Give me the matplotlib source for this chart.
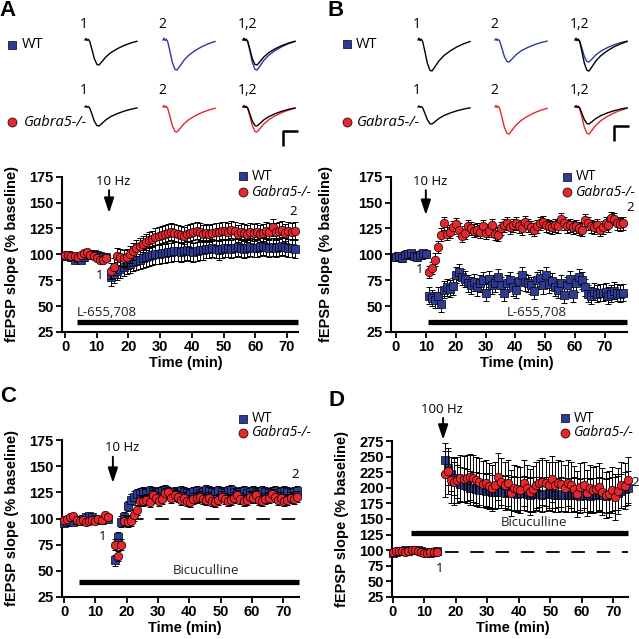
import numpy as np
import matplotlib.pyplot as plt

W = H = 639
plt.rcParams['font.family'] = ['Liberation Sans', 'DejaVu Sans']
ANNO = ['Open Sans', 'DejaVu Sans']

BLUE = '#2d3b96'
RED = '#e8262c'

# ---------------- data ----------------
# example fEPSP waveform (normalised time, normalised depth)
TRACE_X = [0.00, 0.02, 0.04, 0.06, 0.09, 0.13, 0.18, 0.23, 0.27, 0.32, 0.40, 0.50, 0.62, 0.75, 0.88, 1.00]
TRACE_Y = [0.00, 0.06, -0.02, 0.03, -0.05, -0.35, -0.75, -0.98, -1.00, -0.88, -0.68, -0.50, -0.35, -0.22, -0.12, -0.05]
# trace depths (px) : [before, after]
A_WT_DEPTH = [25, 30]
A_KO_DEPTH = [19, 25]
B_WT_DEPTH = [31, 22]
B_KO_DEPTH = [17, 27]

# panel A  (L-655,708, 10 Hz)
A_BASE_T0, A_POST_T0 = 0.0, 14.5
A_WT_BASE = [98, 99, 97, 95, 96, 95, 97, 99, 100, 100, 99, 98, 97, 97]
A_KO_BASE = [99, 99, 98, 98, 97, 99, 101, 102, 99, 98, 96, 95, 95, 96]
A_WT_POST = [78, 81, 84, 86, 88, 90, 91, 93, 94, 95,
             96, 97, 98, 99, 100, 100, 101, 101, 102, 102,
             103, 103, 102, 103, 104, 103, 102, 103, 104, 104,
             105, 105, 106, 105, 104, 105, 106, 106, 105, 106,
             107, 106, 105, 106, 107, 106, 106, 107, 108, 107,
             106, 107, 106, 107, 108, 107, 106, 106, 105]
A_KO_POST = [84, 88, 98, 97, 96, 97, 100, 103, 106, 108,
             110, 112, 114, 115, 117, 118, 119, 120, 121, 122,
             121, 120, 119, 118, 120, 121, 122, 123, 122, 120,
             121, 120, 121, 122, 122, 123, 123, 122, 124, 123,
             120, 122, 121, 120, 122, 121, 122, 120, 121, 123,
             122, 126, 122, 123, 124, 121, 123, 122, 123]
A_ERR = {'wt': (3, 9), 'ko': (2, 8)}

# panel B  (L-655,708 during 10 Hz)
B_BASE_T0, B_POST_T0 = 0.0, 11.2
B_WT_BASE = [97, 98, 96, 99, 100, 101, 98, 97, 99, 101, 100]
B_KO_BASE = [98, 97, 98, 100, 99, 100, 99, 98, 100, 99, 100]
B_WT_POST = [60, 58, 56, 60, 52, 66, 68, 67, 69, 80,
             83, 78, 76, 72, 70, 73, 68, 72, 75, 63,
             76, 70, 72, 78, 70, 63, 72, 75, 68, 66,
             74, 80, 73, 72, 70, 65, 75, 77, 70, 80,
             71, 74, 68, 66, 72, 61, 70, 76, 62, 72,
             78, 75, 68, 62, 60, 64, 62, 63, 63, 64,
             60, 62, 65, 63, 62, 63]
B_KO_POST = [83, 87, 95, 107, 119, 130, 120, 122, 126, 129,
             124, 118, 121, 127, 125, 123, 124, 122, 127, 121,
             123, 128, 120, 119, 125, 128, 130, 126, 128, 130,
             127, 125, 131, 128, 126, 124, 127, 130, 131, 128,
             127, 126, 128, 127, 134, 130, 127, 128, 126, 127,
             125, 124, 133, 130, 127, 126, 128, 124, 126, 130,
             128, 135, 134, 130, 129, 130]
B_ERR = {'wt': (3, 8), 'ko': (3, 6)}

# panel C  (bicuculline, 10 Hz)
C_BASE_T0, C_POST_T0 = 0.0, 16.3
C_WT_BASE = [96, 97, 98, 97, 99, 98, 100, 101, 102, 101, 100, 99, 99, 100, 100]
C_KO_BASE = [99, 100, 101, 102, 99, 98, 99, 97, 98, 99, 98, 100, 99, 103, 101]
C_WT_POST = [60, 82, 97, 101, 112, 118, 121, 123, 124, 125,
             124, 126, 125, 124, 125, 126, 127, 125, 124, 125,
             124, 126, 125, 124, 123, 125, 126, 124, 125, 127,
             126, 125, 124, 126, 125, 124, 126, 127, 125, 124,
             125, 126, 124, 125, 126, 125, 124, 126, 125, 124,
             125, 126, 124, 125, 126, 125, 124, 125, 126]
C_KO_POST = [75, 64, 75, 98, 97, 98, 103, 108, 117, 117,
             118, 116, 122, 120, 117, 119, 124, 125, 120, 122,
             121, 118, 120, 117, 116, 119, 120, 121, 119, 118,
             120, 117, 116, 118, 121, 119, 117, 118, 120, 122,
             119, 117, 118, 121, 120, 122, 118, 117, 119, 120,
             123, 121, 118, 120, 117, 118, 120, 119, 121]
C_ERR = {'wt': (3, 5), 'ko': (2, 5)}

# panel D  (bicuculline, 100 Hz)
D_BASE_T0, D_POST_T0 = 0.0, 16.5
D_WT_BASE = [96, 97, 98, 99, 100, 99, 100, 101, 100, 98, 97, 97, 96, 97, 98]
D_KO_BASE = [97, 98, 99, 98, 97, 98, 100, 101, 99, 97, 96, 96, 97, 97, 97]
D_WT_POST = [245, 232, 222, 215, 210, 206, 205, 203, 200, 199,
             198, 197, 196, 195, 196, 194, 193, 195, 194, 192,
             193, 191, 192, 190, 191, 192, 190, 189, 190, 191,
             190, 189, 190, 191, 190, 189, 188, 190, 189, 188,
             189, 190, 188, 187, 189, 188, 187, 188, 189, 190,
             188, 187, 189, 190, 191, 192, 195, 198, 200]
D_KO_POST = [222, 227, 212, 210, 213, 215, 214, 216, 217, 215,
             212, 210, 206, 208, 203, 200, 205, 218, 210, 204,
             208, 192, 200, 198, 196, 208, 200, 193, 198, 205,
             207, 210, 208, 204, 214, 205, 207, 206, 200, 208,
             205, 198, 190, 202, 204, 192, 200, 197, 198, 202,
             194, 188, 190, 197, 185, 195, 204, 203, 212]
D_ERR = {'wt': (3, 27), 'ko': (3, 37)}

X_TICKS = [0, 10, 20, 30, 40, 50, 60, 70]


fig = plt.figure(figsize=(W / 100, H / 100), dpi=100)

# overlay in pixel coordinates for traces, letters, legends
ov = fig.add_axes([0, 0, 1, 1])
ov.set_xlim(0, W)
ov.set_ylim(H, 0)
ov.axis('off')


def px_axes(left, top, right, bottom):
    return fig.add_axes([left / W, 1 - bottom / H, (right - left) / W, (bottom - top) / H])


def style(ax, xlim, ylim, yticks):
    ax.set_xlim(*xlim)
    ax.set_ylim(*ylim)
    ax.set_xticks(X_TICKS)
    ax.set_yticks(yticks)
    for s in ['top', 'right']:
        ax.spines[s].set_visible(False)
    for s in ['left', 'bottom']:
        ax.spines[s].set_linewidth(1.5)
    ax.tick_params(direction='out', length=4, width=1.3, pad=2, labelsize=10.5)
    for lab in ax.get_xticklabels() + ax.get_yticklabels():
        lab.set_fontweight('bold')
    ax.patch.set_alpha(0)


def series(ax, t0, vals, err, marker, color, ms, z):
    t = t0 + np.arange(len(vals))
    ax.errorbar(t, vals, yerr=err, fmt='none', ecolor='k', elinewidth=0.7,
                capsize=2.3, capthick=0.7, zorder=z, clip_on=False)
    ax.plot(t, vals, ls='none', marker=marker, ms=ms, mfc=color, mec='k',
            mew=0.5, zorder=z + 0.5, clip_on=False)


def group(ax, base_t0, post_t0, base, post, errs, kind, z):
    if kind == 'wt':
        m, c, ms = 's', BLUE, 5.6
    else:
        m, c, ms = 'o', RED, 6.1
    series(ax, base_t0, base, errs[kind][0], m, c, ms, z)
    series(ax, post_t0, post, errs[kind][1], m, c, ms, z)


def arrow(ax, x, y_from, y_to, label, tx, ty):
    ax.annotate('', xy=(x, y_to), xytext=(x, y_from), annotation_clip=False,
                arrowprops=dict(arrowstyle='-|>,head_length=0.6,head_width=0.2',
                                color='k', lw=1.4, mutation_scale=15, shrinkA=0, shrinkB=0))
    ax.text(tx, ty, label, ha='center', va='center', fontsize=9.5, family=ANNO, clip_on=False)


def drug_bar(ax, x0, x1, y, label, lx, ly, ha):
    ax.plot([x0, x1], [y, y], color='k', lw=3.8, solid_capstyle='butt', clip_on=False)
    ax.text(lx, ly, label, ha=ha, va='center', fontsize=9.5, family=ANNO, color='#222222', clip_on=False)


def note(ax, x, y, s):
    ax.text(x, y, s, ha='center', va='center', fontsize=9.5, family=ANNO, clip_on=False)


def legend(x, y1, y2):
    ov.plot(x, y1, 's', ms=6, mfc=BLUE, mec='k', mew=0.5)
    ov.plot(x, y2, 'o', ms=6.5, mfc=RED, mec='k', mew=0.5)
    ov.text(x + 9, y1, 'WT', va='center', fontsize=10, family=ANNO)
    ov.text(x + 9, y2, 'Gabra5-/-', va='center', fontsize=10, family=ANNO, style='italic')


def trace(x0, base, depth, color, width=52):
    xs = x0 + np.array(TRACE_X) * width
    ys = base - np.array(TRACE_Y) * depth
    ov.plot(xs, ys, color=color, lw=1.0)


def trace_block(cols, rows, wt_depth, ko_depth):
    nums = ['1', '2', '1,2']
    for base in rows:
        for c, x0 in enumerate(cols):
            ov.text(x0 - 5, base - 16, nums[c], fontsize=10, family=ANNO, va='center')
    # WT row
    trace(cols[0], rows[0], wt_depth[0], 'k')
    trace(cols[1], rows[0], wt_depth[1], BLUE)
    trace(cols[2], rows[0], wt_depth[1], BLUE)
    trace(cols[2], rows[0], wt_depth[0], 'k')
    # KO row
    trace(cols[0], rows[1], ko_depth[0], 'k')
    trace(cols[1], rows[1], ko_depth[1], RED)
    trace(cols[2], rows[1], ko_depth[1], RED)
    trace(cols[2], rows[1], ko_depth[0], 'k')


def scale_bar(x, y, w=15, h=15):
    ov.plot([x + w, x, x], [y, y, y + h], color='k', lw=1.8, solid_capstyle='butt')


# ---------------- traces / letters ----------------
for s, (x, y) in zip('ABCD', [(8, 11), (336, 11), (8, 397), (336, 400)]):
    ov.text(x, y, s, ha='center', va='center', fontsize=16, fontweight='bold')

ov.plot(12, 45, 's', ms=6, mfc=BLUE, mec='k', mew=0.5)
ov.text(22, 45, 'WT', va='center', fontsize=10.5, family=ANNO)
ov.plot(12, 122, 'o', ms=6.5, mfc=RED, mec='k', mew=0.5)
ov.text(24, 122, 'Gabra5-/-', va='center', fontsize=10.5, family=ANNO, style='italic')
ov.plot(347, 44, 's', ms=6, mfc=BLUE, mec='k', mew=0.5)
ov.text(356, 44, 'WT', va='center', fontsize=10.5, family=ANNO)
ov.plot(347, 122, 'o', ms=6.5, mfc=RED, mec='k', mew=0.5)
ov.text(357, 122, 'Gabra5-/-', va='center', fontsize=10.5, family=ANNO, style='italic')

trace_block([85, 163, 243], [40, 107], A_WT_DEPTH, A_KO_DEPTH)
trace_block([418, 495, 575], [40, 107], B_WT_DEPTH, B_KO_DEPTH)
scale_bar(283, 131)
scale_bar(614, 126)

# ---------------- panel A ----------------
axA = px_axes(62, 176.7, 298, 332)
style(axA, (-0.95, 73.5), (25, 175), [25, 50, 75, 100, 125, 150, 175])
group(axA, A_BASE_T0, A_POST_T0, A_WT_BASE, A_WT_POST, A_ERR, 'wt', 3)
group(axA, A_BASE_T0, A_POST_T0, A_KO_BASE, A_KO_POST, A_ERR, 'ko', 4)
arrow(axA, 13.9, 162, 140, '10 Hz', 15.1, 170)
drug_bar(axA, 3.8, 73.5, 34.6, 'L-655,708', 3.8, 44.3, 'left')
note(axA, 11, 80, '1')
note(axA, 72, 141, '2')
legend(243, 176, 192)

# ---------------- panel B ----------------
axB = px_axes(391, 176.7, 627, 332)
style(axB, (-1.67, 77.4), (25, 175), [25, 50, 75, 100, 125, 150, 175])
group(axB, B_BASE_T0, B_POST_T0, B_KO_BASE, B_KO_POST, B_ERR, 'ko', 3)
group(axB, B_BASE_T0, B_POST_T0, B_WT_BASE, B_WT_POST, B_ERR, 'wt', 4)
arrow(axB, 10.0, 162, 138, '10 Hz', 11.4, 170)
drug_bar(axB, 10.7, 77.4, 34.6, 'L-655,708', 47.2, 44.3, 'center')
note(axB, 8, 85, '1')
note(axB, 78.5, 145, '2')
legend(567, 177, 192)

# ---------------- panel C ----------------
axC = px_axes(62, 440, 299, 597)
style(axC, (-0.64, 75), (25, 175), [25, 50, 75, 100, 125, 150, 175])
axC.plot([21, 75], [100, 100], color='k', lw=1.3, dashes=(7.5, 6.5), zorder=1)
group(axC, C_BASE_T0, C_POST_T0, C_WT_BASE, C_WT_POST, C_ERR, 'wt', 3)
group(axC, C_BASE_T0, C_POST_T0, C_KO_BASE, C_KO_POST, C_ERR, 'ko', 4)
arrow(axC, 15.6, 159, 134, '10 Hz', 18.5, 168)
drug_bar(axC, 4.8, 75, 39.3, 'Bicuculline', 45.3, 50, 'center')
note(axC, 12.4, 83, '1')
note(axC, 73.7, 141.6, '2')
legend(243, 419, 433)

# ---------------- panel D ----------------
axD = px_axes(392, 441, 628, 597)
style(axD, (-0.2, 74.6), (25, 275), [25, 50, 75, 100, 125, 150, 175, 200, 225, 250, 275])
axD.plot([16.5, 74.6], [97, 97], color='k', lw=1.3, dashes=(7.5, 6.5), zorder=1)
group(axD, D_BASE_T0, D_POST_T0, D_WT_BASE, D_WT_POST, D_ERR, 'wt', 3)
group(axD, D_BASE_T0, D_POST_T0, D_KO_BASE, D_KO_POST, D_ERR, 'ko', 4)
arrow(axD, 16, 312, 277, '100 Hz', 15.6, 325)
drug_bar(axD, 5.8, 74.6, 127.5, 'Bicuculline', 44.7, 143.6, 'center')
note(axD, 15, 71, '1')
note(axD, 76.8, 208, '2')
legend(565, 418, 433)

# axis titles
for x, y in [(12, 254), (326, 254), (12, 518), (342, 519)]:
    fig.text(x / W, 1 - y / H, 'fEPSP slope (% baseline)', rotation=90, ha='center', va='center',
             fontsize=10.5, fontweight='bold')
for x, y in [(186, 363), (517, 363), (185, 628), (513, 628)]:
    fig.text(x / W, 1 - y / H, 'Time (min)', ha='center', va='center', fontsize=10.5, fontweight='bold')

fig.savefig('out.png', dpi=100)
